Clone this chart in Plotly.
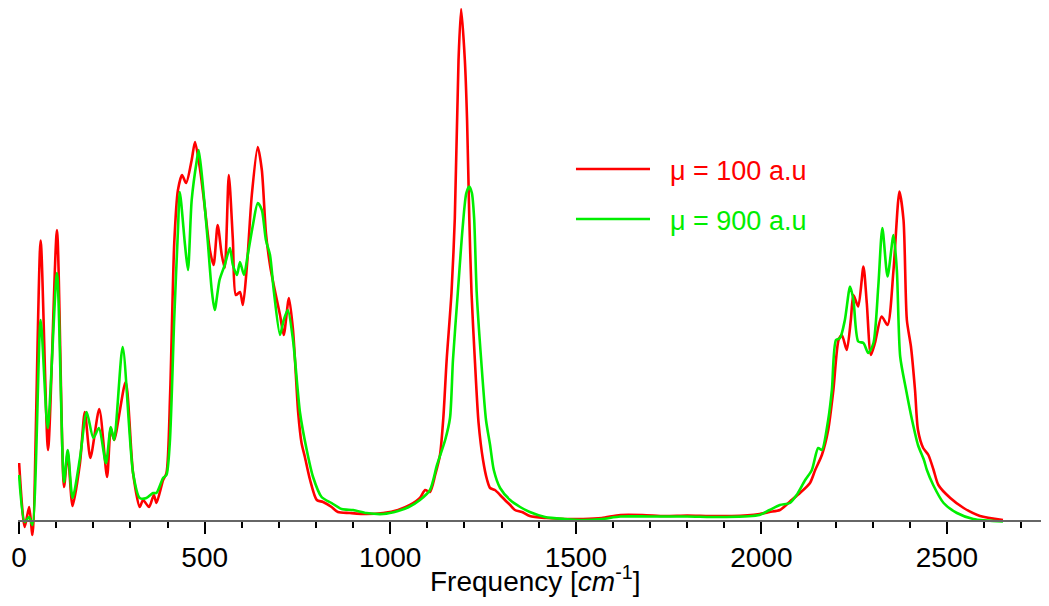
import plotly.graph_objects as go

# spectrum, mu = 100 a.u (red)
freq_red = [0, 15, 27, 36, 58, 78, 102, 121, 131, 144, 164, 177, 192, 216, 237, 247, 256, 287, 307, 325,
            334, 350, 363, 370, 388, 397, 407, 418, 428, 439, 450, 465, 474, 487, 498, 514, 524, 535, 546, 554,
            565, 576, 584, 595, 603, 614, 627, 643, 654, 665, 676, 686, 703, 713, 727, 738, 752, 761, 770, 784,
            802, 819, 842, 859, 891, 936, 981, 1021, 1053, 1080, 1094, 1107, 1121, 1134, 1143, 1152, 1165, 1174, 1184, 1191,
            1201, 1207, 1213, 1219, 1228, 1238, 1250, 1261, 1269, 1282, 1296, 1309, 1323, 1336, 1355, 1376, 1420, 1470, 1520, 1570,
            1620, 1680, 1740, 1800, 1860, 1920, 1995, 2022, 2050, 2077, 2104, 2131, 2145, 2163, 2180, 2194, 2208, 2217, 2230, 2241,
            2248, 2261, 2275, 2284, 2295, 2306, 2324, 2340, 2356, 2372, 2383, 2392, 2403, 2414, 2422, 2436, 2450, 2464, 2477, 2509,
            2545, 2589, 2651]
int_red = [11, -1.8, 2.2, -3.4, 55.5, 13.6, 57.6, 6.2, 13, 2.4, 11, 21.2, 12, 21.8, 8.2, 18, 15.6, 27.2, 9, 2.2,
           3.6, 2.2, 4.6, 3, 7.6, 9, 25, 55, 65.6, 68.6, 67, 71.6, 75.2, 70, 63.6, 53.6, 50.6, 58.6, 52.6, 50,
           68.6, 55.6, 44.6, 45.2, 42.6, 50.6, 64.6, 74.2, 69.6, 57, 50.6, 46.6, 40.6, 36.6, 44, 37.6, 21, 15, 12.2, 7.6,
           3.6, 3.2, 2.2, 1.2, 1, 0.8, 1, 1.6, 2.6, 4, 5.6, 5.2, 8.6, 12.6, 20, 31.6, 45, 60, 91.6, 101.8,
           91.6, 79.6, 60, 45, 31.6, 19, 11.6, 7.6, 6, 5.6, 4.6, 3.6, 2.6, 1.6, 1.2, 0.4, 0, -0.2, -0.2, 0,
           0.6, 0.6, 0.4, 0.5, 0.4, 0.4, 0.8, 1.2, 1.6, 3.3, 5, 7, 9.6, 12.6, 17.6, 25.6, 35.6, 36.6, 33.6, 39.6,
           44.6, 42.3, 50.3, 43, 32.6, 35, 40.3, 38.6, 49.6, 65.3, 59.6, 39.6, 34.3, 25.6, 17.6, 14, 12.6, 9.6, 6.6, 4,
           2, 0.4, -0.4]

# spectrum, mu = 900 a.u (green)
freq_green = [0, 15, 27, 36, 58, 77, 102, 121, 131, 144, 164, 182, 200, 215, 234, 247, 256, 279, 307, 325,
              343, 361, 370, 388, 397, 406, 418, 428, 433, 447, 455, 465, 479, 484, 495, 508, 519, 527, 540, 554,
              568, 576, 587, 595, 606, 616, 630, 643, 654, 665, 676, 686, 703, 713, 724, 738, 757, 775, 792, 815,
              842, 869, 900, 936, 981, 1021, 1050, 1080, 1107, 1126, 1148, 1161, 1169, 1182, 1195, 1205, 1213, 1220, 1226, 1233,
              1245, 1258, 1269, 1279, 1296, 1323, 1350, 1376, 1417, 1470, 1520, 1570, 1620, 1700, 1800, 1900, 1995, 2022, 2050, 2077,
              2095, 2118, 2136, 2153, 2163, 2180, 2190, 2201, 2212, 2225, 2239, 2248, 2261, 2275, 2288, 2302, 2315, 2326, 2340, 2356,
              2365, 2374, 2390, 2406, 2422, 2438, 2446, 2463, 2491, 2527, 2571, 2651]
int_green = [8.6, -0.8, 0.2, -1.4, 39.6, 18, 49, 7.2, 13.6, 4, 12, 21.2, 16, 18, 11, 18.2, 15.6, 34.2, 9, 4,
             4, 5, 5, 8, 8.6, 15, 40, 57.6, 65.2, 54.6, 49.6, 63.6, 71.6, 73.6, 66.6, 55.6, 45.6, 41.6, 47.6, 50.6,
             54, 50.6, 48.6, 51.2, 48.6, 52.6, 58.6, 63, 61.6, 55.6, 52.6, 45.6, 36.6, 39.6, 41.6, 35.6, 21, 13.6, 8.2, 4.2,
             3, 1.8, 1.6, 1, 0.8, 1.4, 2.2, 3.6, 5.6, 10.6, 15.6, 20, 31.6, 45, 58, 65, 66.3, 65, 60, 45,
             31.6, 19.6, 14.6, 9.6, 6, 3.6, 2.2, 1.2, 0.2, -0.2, -0.4, -0.2, 0.3, 0.3, 0.3, 0.2, 0.6, 1.6, 2.6, 3,
             4.6, 7.6, 9.6, 14, 13.6, 19.6, 25.6, 35.6, 36, 39.6, 46.3, 43.6, 35.3, 35, 33, 35, 46.3, 58, 48.3, 56.6,
             49.6, 32.3, 25.6, 19.6, 14.6, 11.6, 9.6, 6.6, 3, 1, -0.2, -0.7]

names = ["μ = 100 a.u", "μ = 900 a.u"]
colors = ["#ff0000", "#00ee00"]
FONT = "Liberation Sans, Arial, sans-serif"

fig = go.Figure()
fig.add_trace(go.Scatter(x=freq_red, y=int_red, mode="lines", name=names[0],
                         line=dict(color=colors[0], width=2.6, shape="spline", smoothing=0.7)))
fig.add_trace(go.Scatter(x=freq_green, y=int_green, mode="lines", name=names[1],
                         line=dict(color=colors[1], width=2.6, shape="spline", smoothing=0.7)))

# hand-made legend: long sample line + coloured label
leg_y = [0.700, 0.607]
for i in range(2):
    fig.add_shape(type="line", xref="paper", yref="paper", x0=0.5412, x1=0.613, y0=leg_y[i], y1=leg_y[i],
                  line=dict(color=colors[i], width=2.5))
    fig.add_annotation(xref="paper", yref="paper", x=0.6305, y=leg_y[i] - 0.004, text=names[i],
                       showarrow=False, xanchor="left", yanchor="middle",
                       font=dict(family=FONT, size=27, color=colors[i]))

# axis title as an annotation so it can sit closer to the tick labels
fig.add_annotation(xref="paper", yref="paper", x=0.501, y=-0.1005, text="Frequency [<i>cm</i><sup>-1</sup>]",
                   showarrow=False, xanchor="center", yanchor="bottom",
                   font=dict(family=FONT, size=28, color="black"))

# the page adds an 8px body margin, so the figure is smaller than the window
fig.update_layout(
    width=1041, height=590,
    margin=dict(l=10, r=0, t=0, b=53, autoexpand=False),
    plot_bgcolor="white", paper_bgcolor="white",
    showlegend=False,
    font=dict(family=FONT, size=28, color="black"),
)
fig.update_xaxes(
    range=[-3, 2775], anchor="free", position=0.0447, automargin=False,
    showgrid=False, zeroline=False,
    showline=True, linecolor="#666666", linewidth=1.5,
    tickmode="linear", tick0=0, dtick=500,
    ticks="outside", ticklen=12, tickwidth=2, tickcolor="black",
    tickfont=dict(size=28),
    minor=dict(dtick=100, ticks="outside", ticklen=6, tickwidth=1.5, tickcolor="black"),
)
fig.update_yaxes(range=[-5.4, 102], visible=False, automargin=False)

fig.write_html("out.html")
